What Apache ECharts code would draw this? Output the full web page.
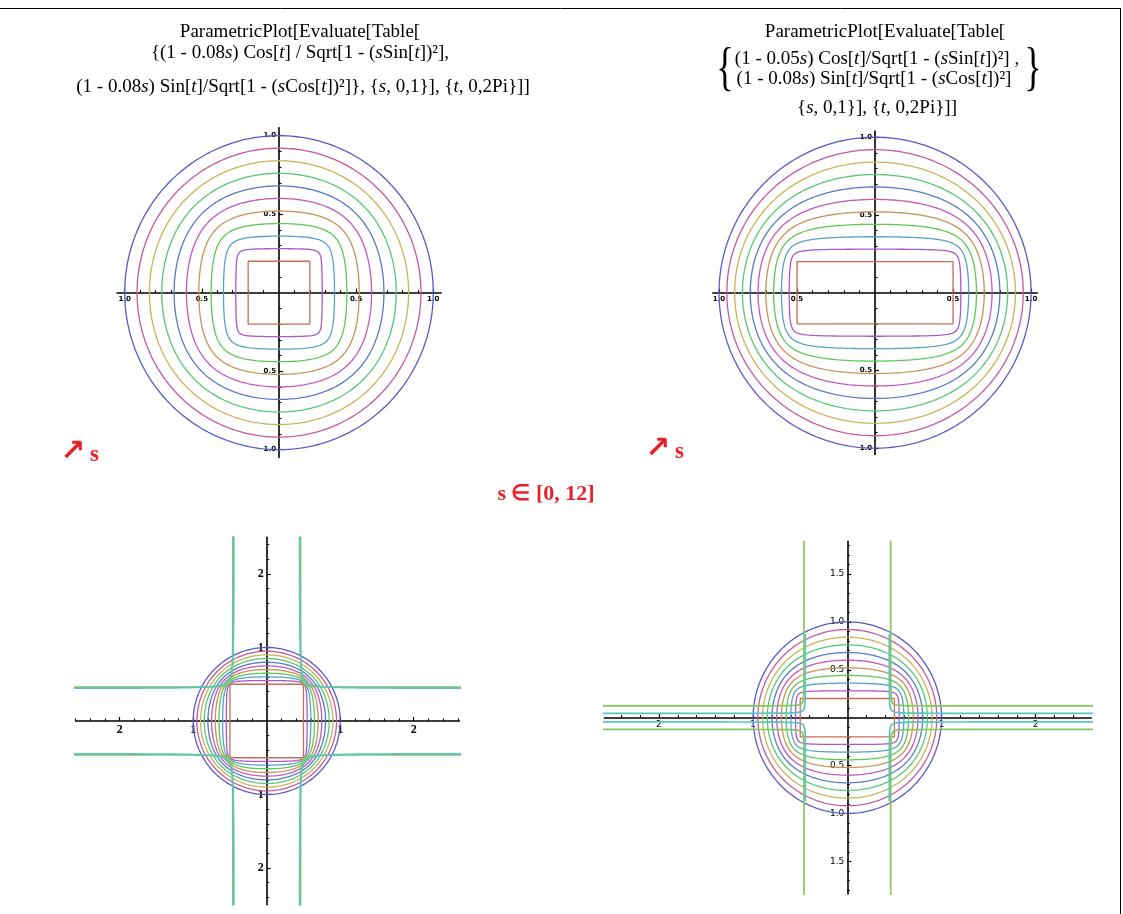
<!DOCTYPE html>
<html><head><meta charset="utf-8">
<script src="https://cdn.jsdelivr.net/npm/echarts@6/dist/echarts.min.js"></script>
<style>html,body{margin:0;padding:0;background:#fff}#c{width:1123px;height:914px}</style>
</head><body><div id="c"></div>
<script>
// ---------------- data ----------------
// curve index s (one curve per value), Sqrt-argument uses s * sqrtStep
const sTop = [0, 1, 2, 3, 4, 5, 6, 7, 8, 9, 10];
const sBottom = [0, 1, 2, 3, 4, 5, 6, 7, 8, 9, 10, 11, 12];
const sqrtStep = 0.1;
// (1 - k s) coefficients for the x and y components
const coefTL = [0.08, 0.08];
const coefTR = [0.05, 0.08];
const coefBL = [0.05, 0.05];
const coefBR = [0.05, 0.08];
const tRange = [0, 2 * Math.PI];
// axis ranges
const rangeTLx = [-1.05, 1.05], rangeTLy = [-1.05, 1.05];
const rangeTRx = [-1.04, 1.04], rangeTRy = [-1.04, 1.04];
const rangeBLx = [-2.6, 2.62], rangeBLy = [-2.5, 2.5];
const rangeBRx = [-2.58, 2.59], rangeBRy = [-1.84, 1.84];
// tick labels
const labelsTop = [-1, -0.5, 0.5, 1];
const labelsBLx = [-2, -1, 1, 2], labelsBLy = [-2, -1, 1, 2];
const labelsBRx = [-2, -1, 1, 2], labelsBRy = [-1.5, -1, -0.5, 0.5, 1, 1.5];
// minor tick steps
const minorTop = 0.1, minorBL = 0.2, minorBRx = 0.2, minorBRy = 0.1;

// ---------------- styles ----------------
const palette = ['#5a58c6','#c6589a','#c6b458','#58c676','#587ac6','#c458bc','#c69258',
                 '#60c658','#58a2c6','#ac58c6','#c66c58','#88c658','#58c4c6'];

function curve(s, coef, N) {
  const a = s * sqrtStep, cx = 1 - coef[0] * s, cy = 1 - coef[1] * s;
  const pts = []; let gap = false, hadGap = false;
  for (let i = 0; i < N; i++) {
    const t = tRange[0] + (i + 0.5) * (tRange[1] - tRange[0]) / N;
    const u = 1 - Math.pow(a * Math.sin(t), 2), v = 1 - Math.pow(a * Math.cos(t), 2);
    if (u <= 0 || v <= 0) { if (!gap && pts.length) pts.push(['-', '-']); gap = true; hadGap = true; continue; }
    gap = false;
    pts.push([cx * Math.cos(t) / Math.sqrt(u), cy * Math.sin(t) / Math.sqrt(v)]);
  }
  if (!hadGap) pts.push(pts[0].slice());
  return pts;
}
function stepList(lo, hi, step, exclude) {
  const out = [];
  const n0 = Math.ceil(lo / step - 1e-9), n1 = Math.floor(hi / step + 1e-9);
  for (let n = n0; n <= n1; n++) {
    const v = +(n * step).toFixed(6);
    if (v === 0) continue;
    if (exclude.some(e => Math.abs(e - v) < 1e-9)) continue;
    out.push(v);
  }
  return out;
}

const panels = [
  {grid:{left:117,top:127.8,width:324,height:329.7}, xr:rangeTLx, yr:rangeTLy, s:sTop, coef:coefTL, N:4000,
   xl:labelsTop, yl:labelsTop, xm:minorTop, ym:minorTop, fmt:v=>Math.abs(v).toFixed(1), yfmt:v=>Math.abs(v).toFixed(1),
   font:{fontSize:7,fontFamily:'DejaVu Sans',fontWeight:'bold'}},
  {grid:{left:712.8,top:131,width:324.5,height:323.4}, xr:rangeTRx, yr:rangeTRy, s:sTop, coef:coefTR, N:4000,
   xl:labelsTop, yl:labelsTop, xm:minorTop, ym:minorTop, fmt:v=>Math.abs(v).toFixed(1), yfmt:v=>Math.abs(v).toFixed(1),
   font:{fontSize:7,fontFamily:'DejaVu Sans',fontWeight:'bold'}},
  {grid:{left:75.6,top:537.25,width:383.7,height:367.5}, xr:rangeBLx, yr:rangeBLy, s:sBottom, coef:coefBL, N:12000,
   xl:labelsBLx, yl:labelsBLy, xm:minorBL, ym:minorBL, fmt:v=>String(Math.abs(v)), yfmt:v=>String(Math.abs(v)),
   font:{fontSize:12,fontFamily:'Liberation Serif',fontWeight:'bold'}},
  {grid:{left:604.3,top:541.4,width:487,height:352.5}, xr:rangeBRx, yr:rangeBRy, s:sBottom, coef:coefBR, N:12000,
   xl:labelsBRx, yl:labelsBRy, xm:minorBRx, ym:minorBRy, fmt:v=>String(Math.abs(v)), yfmt:v=>Math.abs(v).toFixed(1),
   font:{fontSize:9,fontFamily:'DejaVu Sans',fontWeight:'normal'}}
];

const grid = [], xAxis = [], yAxis = [], series = [];
panels.forEach((p, gi) => {
  grid.push(Object.assign({containLabel:false}, p.grid));
  const lab = Object.assign({color:'#000', margin:3}, p.font);
  const xMinor = stepList(p.xr[0], p.xr[1], p.xm, p.xl);
  const yMinor = stepList(p.yr[0], p.yr[1], p.ym, p.yl);
  // distance of the zero lines from the grid edges
  const zBottom = p.grid.height * (0 - p.yr[0]) / (p.yr[1] - p.yr[0]);
  const zTop = p.grid.height - zBottom;
  const zLeft = p.grid.width * (0 - p.xr[0]) / (p.xr[1] - p.xr[0]);
  const zRight = p.grid.width - zLeft;
  xAxis.push({gridIndex:gi, type:'value', min:p.xr[0], max:p.xr[1], position:'bottom', offset:-zBottom,
    axisLine:{show:true, onZero:false, lineStyle:{color:'#000', width:1.6}},
    axisTick:{show:true, inside:true, length:4, customValues:p.xl, lineStyle:{color:'#000', width:1.2}},
    axisLabel:Object.assign({customValues:p.xl, formatter:p.fmt}, lab),
    splitLine:{show:false}});
  xAxis.push({gridIndex:gi, type:'value', min:p.xr[0], max:p.xr[1], position:'top', offset:-zTop,
    axisLine:{show:false, onZero:false},
    axisTick:{show:true, inside:false, length:2.5, customValues:xMinor, lineStyle:{color:'#000', width:1.1}},
    axisLabel:{show:false}, splitLine:{show:false}});
  yAxis.push({gridIndex:gi, type:'value', min:p.yr[0], max:p.yr[1], position:'left', offset:-zLeft,
    axisLine:{show:true, onZero:false, lineStyle:{color:'#000', width:1.6}},
    axisTick:{show:true, inside:true, length:4, customValues:p.yl, lineStyle:{color:'#000', width:1.2}},
    axisLabel:Object.assign({customValues:p.yl, formatter:p.yfmt}, lab),
    splitLine:{show:false}});
  yAxis.push({gridIndex:gi, type:'value', min:p.yr[0], max:p.yr[1], position:'right', offset:-zRight,
    axisLine:{show:false, onZero:false},
    axisTick:{show:true, inside:false, length:2.5, customValues:yMinor, lineStyle:{color:'#000', width:1.1}},
    axisLabel:{show:false}, splitLine:{show:false}});
  p.s.forEach((s, k) => {
    series.push({type:'line', xAxisIndex:gi*2, yAxisIndex:gi*2, data:curve(s, p.coef, p.N),
      showSymbol:false, symbol:'none', connectNulls:false, clip:true, silent:true, animation:false, z:1,
      lineStyle:{width:(s * sqrtStep > 1 ? 1.7 : 1.3), color:palette[k]}, itemStyle:{color:palette[k]}});
  });
});

// ---------------- texts ----------------
const serif = 'Liberation Serif';
function rich(str) { return str.split('*').map((p, i) => i % 2 ? '{i|' + p + '}' : p).join(''); }
function title(x, y, str, size) {
  return {type:'text', x:x, y:y, silent:true, style:{text:rich(str), fontSize:size, fontFamily:serif,
    fill:'#000', align:'center', verticalAlign:'middle', textAlign:'center', textVerticalAlign:'middle',
    rich:{i:{fontStyle:'italic', fontSize:size, fontFamily:serif, fill:'#000'}}}};
}
const red = '#e8202a';
const graphic = [
  {type:'line', silent:true, shape:{x1:0, y1:8.5, x2:1121, y2:8.5}, style:{stroke:'#000', lineWidth:1}},
  {type:'line', silent:true, shape:{x1:1120.5, y1:8, x2:1120.5, y2:914}, style:{stroke:'#000', lineWidth:1}},
  title(300, 32, 'ParametricPlot[Evaluate[Table[', 19),
  title(300, 53, '{(1 - 0.08*s*) Cos[*t*] / Sqrt[1 - (*s*Sin[*t*])²],', 19),
  title(303, 87, '(1 - 0.08*s*) Sin[*t*]/Sqrt[1 - (*s*Cos[*t*])²]}, {*s*, 0,1}], {*t*, 0,2Pi}]]', 19),
  title(885, 32, 'ParametricPlot[Evaluate[Table[', 19),
  title(877, 59, '(1 - 0.05*s*) Cos[*t*]/Sqrt[1 - (*s*Sin[*t*])²] ,', 19),
  title(874, 79, '(1 - 0.08*s*) Sin[*t*]/Sqrt[1 - (*s*Cos[*t*])²]', 19),
  title(877, 108, '{*s*, 0,1}], {*t*, 0,2Pi}]]', 19),
  {type:'text', x:725, y:70, scaleX:0.7, silent:true, style:{text:'{', fontSize:52, fontFamily:serif, fill:'#000', textAlign:'center', textVerticalAlign:'middle', align:'center', verticalAlign:'middle'}},
  {type:'text', x:1033, y:70, scaleX:0.7, silent:true, style:{text:'}', fontSize:52, fontFamily:serif, fill:'#000', textAlign:'center', textVerticalAlign:'middle', align:'center', verticalAlign:'middle'}},
  {type:'text', x:60, y:452, silent:true, style:{text:'↗', fontSize:30, fontFamily:'DejaVu Sans', fontWeight:'bold', fill:red, textVerticalAlign:'middle', verticalAlign:'middle'}},
  {type:'text', x:90, y:455, silent:true, style:{text:'s', fontSize:23, fontFamily:serif, fontWeight:'bold', fill:red, textVerticalAlign:'middle', verticalAlign:'middle'}},
  {type:'text', x:645, y:449, silent:true, style:{text:'↗', fontSize:30, fontFamily:'DejaVu Sans', fontWeight:'bold', fill:red, textVerticalAlign:'middle', verticalAlign:'middle'}},
  {type:'text', x:675, y:452, silent:true, style:{text:'s', fontSize:23, fontFamily:serif, fontWeight:'bold', fill:red, textVerticalAlign:'middle', verticalAlign:'middle'}},
  {type:'text', x:546, y:494, silent:true, style:{text:'s ∈ [0, 12]', fontSize:22, fontFamily:serif, fontWeight:'bold', fill:red, textAlign:'center', align:'center', textVerticalAlign:'middle', verticalAlign:'middle'}}
];

const chart = echarts.init(document.getElementById('c'), null, {renderer:'canvas'});
chart.setOption({backgroundColor:'#fff', animation:false, grid, xAxis, yAxis, series, graphic});
</script></body></html>
